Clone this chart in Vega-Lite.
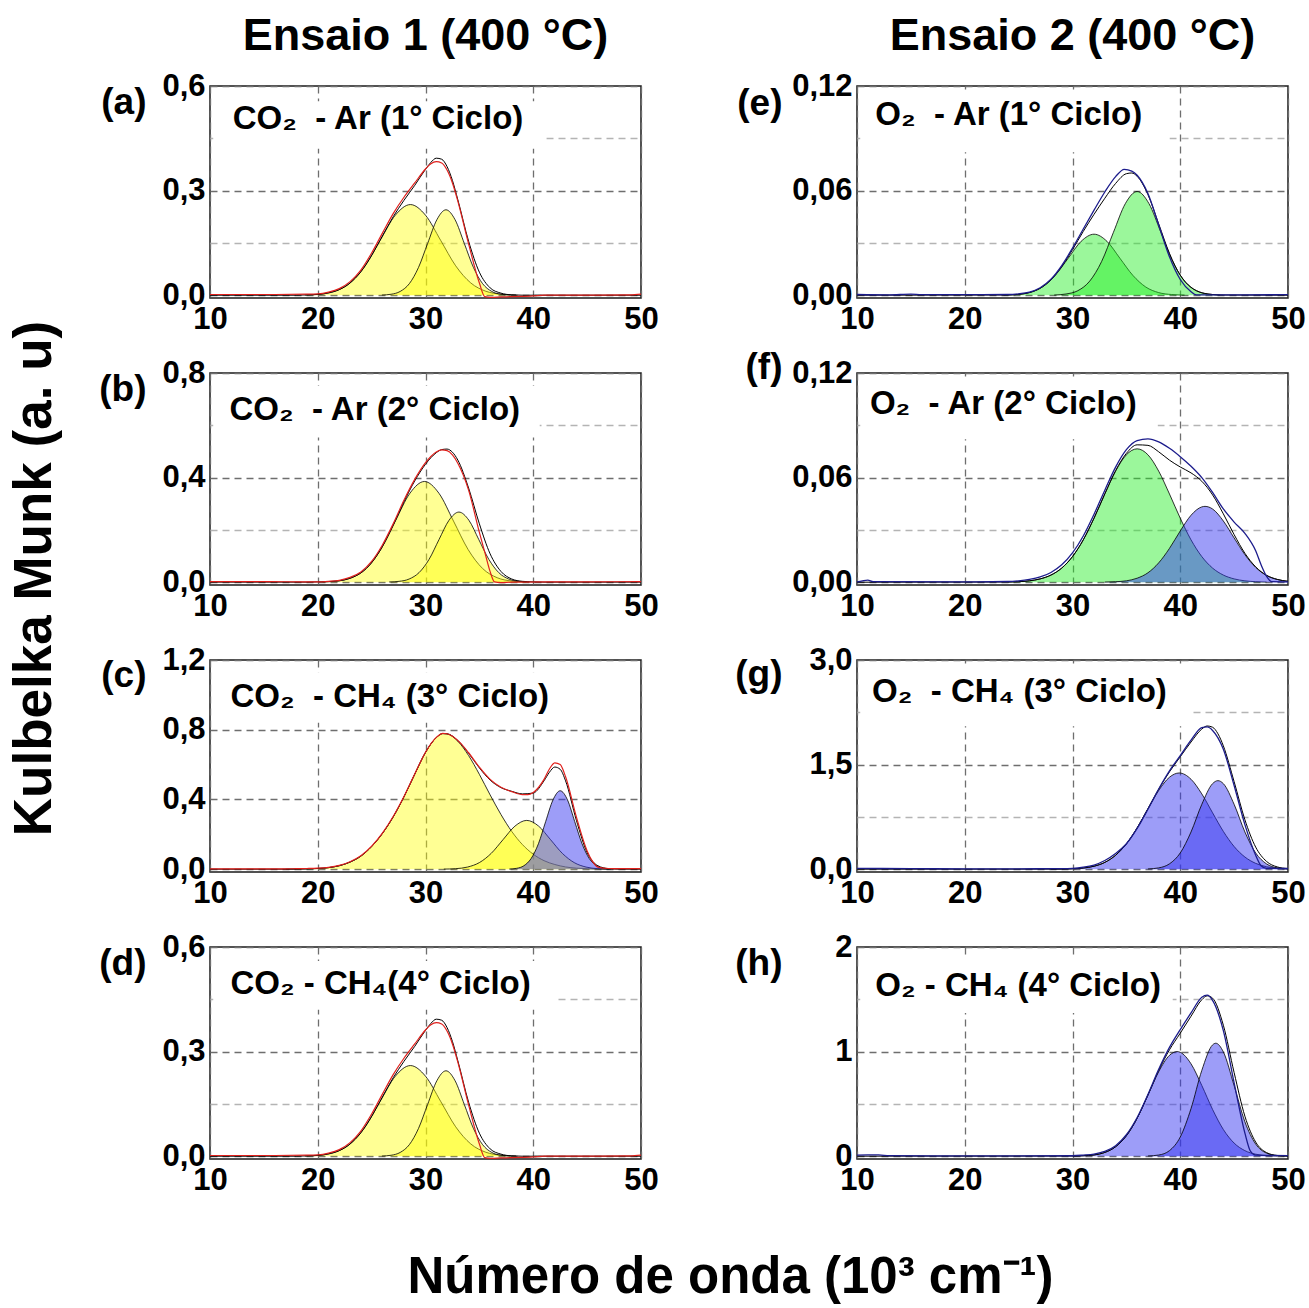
{
"$schema":"https://vega.github.io/schema/vega-lite/v6.json",
"background":"white",
"padding":{"left":9,"top":13,"right":2,"bottom":2},
"data":{"values":[
{"p":"a","s":"g1","x":18.8,"y":0.0006},{"p":"a","s":"g1","x":20.2,"y":0.0029},{"p":"a","s":"g1","x":21.6,"y":0.0114},{"p":"a","s":"g1","x":23,"y":0.0352},{"p":"a","s":"g1","x":24.4,"y":0.0844},{"p":"a","s":"g1","x":25.8,"y":0.1577},{"p":"a","s":"g1","x":27.2,"y":0.2295},{"p":"a","s":"g1","x":28.6,"y":0.26},{"p":"a","s":"g1","x":30,"y":0.2295},{"p":"a","s":"g1","x":31.4,"y":0.1577},{"p":"a","s":"g1","x":32.8,"y":0.0844},{"p":"a","s":"g1","x":34.2,"y":0.0352},{"p":"a","s":"g1","x":35.6,"y":0.0114},{"p":"a","s":"g1","x":37,"y":0.0029},{"p":"a","s":"g1","x":38.4,"y":0.0006},
{"p":"a","s":"g2","x":25.95,"y":0.0005},{"p":"a","s":"g2","x":26.8,"y":0.0027},{"p":"a","s":"g2","x":27.65,"y":0.0108},{"p":"a","s":"g2","x":28.5,"y":0.0331},{"p":"a","s":"g2","x":29.35,"y":0.0796},{"p":"a","s":"g2","x":30.2,"y":0.1486},{"p":"a","s":"g2","x":31.05,"y":0.2162},{"p":"a","s":"g2","x":31.9,"y":0.245},{"p":"a","s":"g2","x":32.75,"y":0.2162},{"p":"a","s":"g2","x":33.6,"y":0.1486},{"p":"a","s":"g2","x":34.45,"y":0.0796},{"p":"a","s":"g2","x":35.3,"y":0.0331},{"p":"a","s":"g2","x":36.15,"y":0.0108},{"p":"a","s":"g2","x":37,"y":0.0027},{"p":"a","s":"g2","x":37.85,"y":0.0005},
{"p":"a","s":"fit","x":10,"y":0},{"p":"a","s":"fit","x":18,"y":0},{"p":"a","s":"fit","x":19,"y":0.001},{"p":"a","s":"fit","x":20,"y":0.002},{"p":"a","s":"fit","x":21,"y":0.007},{"p":"a","s":"fit","x":22,"y":0.016},{"p":"a","s":"fit","x":23,"y":0.035},{"p":"a","s":"fit","x":24,"y":0.067},{"p":"a","s":"fit","x":25,"y":0.114},{"p":"a","s":"fit","x":26,"y":0.17},{"p":"a","s":"fit","x":27,"y":0.225},{"p":"a","s":"fit","x":28,"y":0.272},{"p":"a","s":"fit","x":29,"y":0.315},{"p":"a","s":"fit","x":30,"y":0.361},{"p":"a","s":"fit","x":30.5,"y":0.381},{"p":"a","s":"fit","x":31,"y":0.393},{"p":"a","s":"fit","x":31.5,"y":0.39},{"p":"a","s":"fit","x":32,"y":0.369},{"p":"a","s":"fit","x":32.5,"y":0.329},{"p":"a","s":"fit","x":33,"y":0.274},{"p":"a","s":"fit","x":34,"y":0.155},{"p":"a","s":"fit","x":35,"y":0.066},{"p":"a","s":"fit","x":36,"y":0.021},{"p":"a","s":"fit","x":37,"y":0.006},{"p":"a","s":"fit","x":38,"y":0.001},{"p":"a","s":"fit","x":39,"y":0},{"p":"a","s":"fit","x":50,"y":0},
{"p":"a","s":"exp","x":10,"y":0.002},{"p":"a","s":"exp","x":15,"y":0.002},{"p":"a","s":"exp","x":19,"y":0.003},{"p":"a","s":"exp","x":20,"y":0.004},{"p":"a","s":"exp","x":21,"y":0.009},{"p":"a","s":"exp","x":22,"y":0.019},{"p":"a","s":"exp","x":23,"y":0.039},{"p":"a","s":"exp","x":24,"y":0.072},{"p":"a","s":"exp","x":25,"y":0.121},{"p":"a","s":"exp","x":26,"y":0.178},{"p":"a","s":"exp","x":27,"y":0.234},{"p":"a","s":"exp","x":28,"y":0.281},{"p":"a","s":"exp","x":29,"y":0.322},{"p":"a","s":"exp","x":30,"y":0.362},{"p":"a","s":"exp","x":30.5,"y":0.377},{"p":"a","s":"exp","x":31,"y":0.383},{"p":"a","s":"exp","x":31.5,"y":0.379},{"p":"a","s":"exp","x":32,"y":0.359},{"p":"a","s":"exp","x":32.5,"y":0.322},{"p":"a","s":"exp","x":33,"y":0.27},{"p":"a","s":"exp","x":34,"y":0.147},{"p":"a","s":"exp","x":35,"y":0.035},{"p":"a","s":"exp","x":35.5,"y":-0.004},{"p":"a","s":"exp","x":36,"y":-0.006},{"p":"a","s":"exp","x":37,"y":-0.005},{"p":"a","s":"exp","x":38,"y":-0.004},{"p":"a","s":"exp","x":40,"y":-0.002},{"p":"a","s":"exp","x":41,"y":0},{"p":"a","s":"exp","x":45,"y":0},{"p":"a","s":"exp","x":49,"y":0.001},{"p":"a","s":"exp","x":50,"y":0.003},

{"p":"b","s":"g1","x":20.45,"y":0.0008},{"p":"b","s":"g1","x":21.8,"y":0.0043},{"p":"b","s":"g1","x":23.15,"y":0.0169},{"p":"b","s":"g1","x":24.5,"y":0.0521},{"p":"b","s":"g1","x":25.85,"y":0.125},{"p":"b","s":"g1","x":27.2,"y":0.2335},{"p":"b","s":"g1","x":28.55,"y":0.3398},{"p":"b","s":"g1","x":29.9,"y":0.385},{"p":"b","s":"g1","x":31.25,"y":0.3398},{"p":"b","s":"g1","x":32.6,"y":0.2335},{"p":"b","s":"g1","x":33.95,"y":0.125},{"p":"b","s":"g1","x":35.3,"y":0.0521},{"p":"b","s":"g1","x":36.65,"y":0.0169},{"p":"b","s":"g1","x":38,"y":0.0043},{"p":"b","s":"g1","x":39.35,"y":0.0008},
{"p":"b","s":"g2","x":26.63,"y":0.0006},{"p":"b","s":"g2","x":27.55,"y":0.003},{"p":"b","s":"g2","x":28.48,"y":0.0118},{"p":"b","s":"g2","x":29.4,"y":0.0363},{"p":"b","s":"g2","x":30.33,"y":0.087},{"p":"b","s":"g2","x":31.25,"y":0.1625},{"p":"b","s":"g2","x":32.18,"y":0.2365},{"p":"b","s":"g2","x":33.1,"y":0.268},{"p":"b","s":"g2","x":34.03,"y":0.2365},{"p":"b","s":"g2","x":34.95,"y":0.1625},{"p":"b","s":"g2","x":35.88,"y":0.087},{"p":"b","s":"g2","x":36.8,"y":0.0363},{"p":"b","s":"g2","x":37.73,"y":0.0118},{"p":"b","s":"g2","x":38.65,"y":0.003},{"p":"b","s":"g2","x":39.58,"y":0.0006},
{"p":"b","s":"fit","x":10,"y":0},{"p":"b","s":"fit","x":19,"y":0},{"p":"b","s":"fit","x":20,"y":0.001},{"p":"b","s":"fit","x":21,"y":0.002},{"p":"b","s":"fit","x":22,"y":0.005},{"p":"b","s":"fit","x":23,"y":0.015},{"p":"b","s":"fit","x":24,"y":0.035},{"p":"b","s":"fit","x":25,"y":0.074},{"p":"b","s":"fit","x":26,"y":0.136},{"p":"b","s":"fit","x":27,"y":0.217},{"p":"b","s":"fit","x":28,"y":0.307},{"p":"b","s":"fit","x":29,"y":0.387},{"p":"b","s":"fit","x":30,"y":0.451},{"p":"b","s":"fit","x":31,"y":0.495},{"p":"b","s":"fit","x":31.5,"y":0.507},{"p":"b","s":"fit","x":32,"y":0.509},{"p":"b","s":"fit","x":32.5,"y":0.497},{"p":"b","s":"fit","x":33,"y":0.467},{"p":"b","s":"fit","x":34,"y":0.36},{"p":"b","s":"fit","x":35,"y":0.223},{"p":"b","s":"fit","x":36,"y":0.108},{"p":"b","s":"fit","x":37,"y":0.041},{"p":"b","s":"fit","x":38,"y":0.012},{"p":"b","s":"fit","x":39,"y":0.003},{"p":"b","s":"fit","x":40,"y":0.001},{"p":"b","s":"fit","x":41,"y":0},{"p":"b","s":"fit","x":50,"y":0},
{"p":"b","s":"exp","x":10,"y":0.002},{"p":"b","s":"exp","x":15,"y":0.002},{"p":"b","s":"exp","x":19,"y":0.001},{"p":"b","s":"exp","x":20,"y":0.001},{"p":"b","s":"exp","x":21,"y":0.003},{"p":"b","s":"exp","x":22,"y":0.007},{"p":"b","s":"exp","x":23,"y":0.018},{"p":"b","s":"exp","x":24,"y":0.039},{"p":"b","s":"exp","x":25,"y":0.079},{"p":"b","s":"exp","x":26,"y":0.142},{"p":"b","s":"exp","x":27,"y":0.223},{"p":"b","s":"exp","x":28,"y":0.313},{"p":"b","s":"exp","x":29,"y":0.393},{"p":"b","s":"exp","x":30,"y":0.457},{"p":"b","s":"exp","x":31,"y":0.498},{"p":"b","s":"exp","x":31.5,"y":0.506},{"p":"b","s":"exp","x":32,"y":0.503},{"p":"b","s":"exp","x":32.5,"y":0.487},{"p":"b","s":"exp","x":33,"y":0.455},{"p":"b","s":"exp","x":34,"y":0.352},{"p":"b","s":"exp","x":35,"y":0.19},{"p":"b","s":"exp","x":35.5,"y":0.115},{"p":"b","s":"exp","x":36,"y":0.04},{"p":"b","s":"exp","x":36.4,"y":0.001},{"p":"b","s":"exp","x":37,"y":-0.002},{"p":"b","s":"exp","x":38,"y":0},{"p":"b","s":"exp","x":45,"y":0.001},{"p":"b","s":"exp","x":50,"y":0.002},

{"p":"c","s":"g1","x":17,"y":0},{"p":"c","s":"g1","x":18,"y":0.001},{"p":"c","s":"g1","x":19,"y":0.002},{"p":"c","s":"g1","x":20,"y":0.004},{"p":"c","s":"g1","x":21,"y":0.009},{"p":"c","s":"g1","x":22,"y":0.02},{"p":"c","s":"g1","x":23,"y":0.041},{"p":"c","s":"g1","x":24,"y":0.075},{"p":"c","s":"g1","x":25,"y":0.13},{"p":"c","s":"g1","x":26,"y":0.205},{"p":"c","s":"g1","x":27,"y":0.3},{"p":"c","s":"g1","x":28,"y":0.415},{"p":"c","s":"g1","x":29,"y":0.545},{"p":"c","s":"g1","x":30,"y":0.67},{"p":"c","s":"g1","x":31,"y":0.755},{"p":"c","s":"g1","x":31.6,"y":0.778},{"p":"c","s":"g1","x":32,"y":0.776},{"p":"c","s":"g1","x":33,"y":0.734},{"p":"c","s":"g1","x":34,"y":0.652},{"p":"c","s":"g1","x":35,"y":0.544},{"p":"c","s":"g1","x":36,"y":0.426},{"p":"c","s":"g1","x":37,"y":0.314},{"p":"c","s":"g1","x":38,"y":0.217},{"p":"c","s":"g1","x":39,"y":0.141},{"p":"c","s":"g1","x":40,"y":0.086},{"p":"c","s":"g1","x":41,"y":0.049},{"p":"c","s":"g1","x":42,"y":0.027},{"p":"c","s":"g1","x":43,"y":0.013},{"p":"c","s":"g1","x":44,"y":0.006},{"p":"c","s":"g1","x":45,"y":0.003},{"p":"c","s":"g1","x":46,"y":0.001},{"p":"c","s":"g1","x":47,"y":0},
{"p":"c","s":"g2","x":31.7,"y":0.0006},{"p":"c","s":"g2","x":32.8,"y":0.0031},{"p":"c","s":"g2","x":33.9,"y":0.0123},{"p":"c","s":"g2","x":35,"y":0.0379},{"p":"c","s":"g2","x":36.1,"y":0.0909},{"p":"c","s":"g2","x":37.2,"y":0.1698},{"p":"c","s":"g2","x":38.3,"y":0.2471},{"p":"c","s":"g2","x":39.4,"y":0.28},{"p":"c","s":"g2","x":40.5,"y":0.2471},{"p":"c","s":"g2","x":41.6,"y":0.1698},{"p":"c","s":"g2","x":42.7,"y":0.0909},{"p":"c","s":"g2","x":43.8,"y":0.0379},{"p":"c","s":"g2","x":44.9,"y":0.0123},{"p":"c","s":"g2","x":46,"y":0.0031},{"p":"c","s":"g2","x":47.1,"y":0.0006},
{"p":"c","s":"g3","x":37.78,"y":0.001},{"p":"c","s":"g3","x":38.45,"y":0.005},{"p":"c","s":"g3","x":39.13,"y":0.0198},{"p":"c","s":"g3","x":39.8,"y":0.0609},{"p":"c","s":"g3","x":40.48,"y":0.1461},{"p":"c","s":"g3","x":41.15,"y":0.2729},{"p":"c","s":"g3","x":41.83,"y":0.3971},{"p":"c","s":"g3","x":42.5,"y":0.45},{"p":"c","s":"g3","x":43.18,"y":0.3971},{"p":"c","s":"g3","x":43.85,"y":0.2729},{"p":"c","s":"g3","x":44.53,"y":0.1461},{"p":"c","s":"g3","x":45.2,"y":0.0609},{"p":"c","s":"g3","x":45.88,"y":0.0198},{"p":"c","s":"g3","x":46.55,"y":0.005},{"p":"c","s":"g3","x":47.23,"y":0.001},
{"p":"c","s":"fit","x":10,"y":0},{"p":"c","s":"fit","x":17,"y":0},{"p":"c","s":"fit","x":18,"y":0.001},{"p":"c","s":"fit","x":19,"y":0.002},{"p":"c","s":"fit","x":20,"y":0.004},{"p":"c","s":"fit","x":21,"y":0.009},{"p":"c","s":"fit","x":22,"y":0.02},{"p":"c","s":"fit","x":23,"y":0.041},{"p":"c","s":"fit","x":24,"y":0.075},{"p":"c","s":"fit","x":25,"y":0.13},{"p":"c","s":"fit","x":26,"y":0.205},{"p":"c","s":"fit","x":27,"y":0.3},{"p":"c","s":"fit","x":28,"y":0.415},{"p":"c","s":"fit","x":29,"y":0.545},{"p":"c","s":"fit","x":30,"y":0.67},{"p":"c","s":"fit","x":31,"y":0.755},{"p":"c","s":"fit","x":31.6,"y":0.778},{"p":"c","s":"fit","x":32,"y":0.777},{"p":"c","s":"fit","x":33,"y":0.738},{"p":"c","s":"fit","x":34,"y":0.665},{"p":"c","s":"fit","x":35,"y":0.581},{"p":"c","s":"fit","x":36,"y":0.511},{"p":"c","s":"fit","x":37,"y":0.468},{"p":"c","s":"fit","x":38,"y":0.447},{"p":"c","s":"fit","x":39,"y":0.432},{"p":"c","s":"fit","x":40,"y":0.437},{"p":"c","s":"fit","x":41,"y":0.507},{"p":"c","s":"fit","x":41.5,"y":0.556},{"p":"c","s":"fit","x":42,"y":0.586},{"p":"c","s":"fit","x":42.5,"y":0.573},{"p":"c","s":"fit","x":43,"y":0.507},{"p":"c","s":"fit","x":44,"y":0.281},{"p":"c","s":"fit","x":45,"y":0.095},{"p":"c","s":"fit","x":46,"y":0.02},{"p":"c","s":"fit","x":47,"y":0.003},{"p":"c","s":"fit","x":48,"y":0},{"p":"c","s":"fit","x":50,"y":0},
{"p":"c","s":"exp","x":10,"y":0.002},{"p":"c","s":"exp","x":17,"y":0.002},{"p":"c","s":"exp","x":18,"y":0.003},{"p":"c","s":"exp","x":19,"y":0.004},{"p":"c","s":"exp","x":20,"y":0.006},{"p":"c","s":"exp","x":21,"y":0.011},{"p":"c","s":"exp","x":22,"y":0.022},{"p":"c","s":"exp","x":23,"y":0.043},{"p":"c","s":"exp","x":24,"y":0.077},{"p":"c","s":"exp","x":25,"y":0.132},{"p":"c","s":"exp","x":26,"y":0.207},{"p":"c","s":"exp","x":27,"y":0.302},{"p":"c","s":"exp","x":28,"y":0.417},{"p":"c","s":"exp","x":29,"y":0.546},{"p":"c","s":"exp","x":30,"y":0.671},{"p":"c","s":"exp","x":31,"y":0.756},{"p":"c","s":"exp","x":31.6,"y":0.779},{"p":"c","s":"exp","x":32,"y":0.777},{"p":"c","s":"exp","x":33,"y":0.739},{"p":"c","s":"exp","x":34,"y":0.668},{"p":"c","s":"exp","x":35,"y":0.585},{"p":"c","s":"exp","x":36,"y":0.515},{"p":"c","s":"exp","x":37,"y":0.47},{"p":"c","s":"exp","x":38,"y":0.445},{"p":"c","s":"exp","x":39,"y":0.428},{"p":"c","s":"exp","x":39.5,"y":0.428},{"p":"c","s":"exp","x":40,"y":0.44},{"p":"c","s":"exp","x":41,"y":0.515},{"p":"c","s":"exp","x":41.5,"y":0.575},{"p":"c","s":"exp","x":42,"y":0.61},{"p":"c","s":"exp","x":42.5,"y":0.6},{"p":"c","s":"exp","x":43,"y":0.53},{"p":"c","s":"exp","x":44,"y":0.3},{"p":"c","s":"exp","x":45,"y":0.105},{"p":"c","s":"exp","x":45.5,"y":0.045},{"p":"c","s":"exp","x":46,"y":0.012},{"p":"c","s":"exp","x":47,"y":0.004},{"p":"c","s":"exp","x":48,"y":0.003},{"p":"c","s":"exp","x":50,"y":0.003},

{"p":"d","s":"g1","x":18.8,"y":0.0006},{"p":"d","s":"g1","x":20.2,"y":0.0029},{"p":"d","s":"g1","x":21.6,"y":0.0114},{"p":"d","s":"g1","x":23,"y":0.0352},{"p":"d","s":"g1","x":24.4,"y":0.0844},{"p":"d","s":"g1","x":25.8,"y":0.1577},{"p":"d","s":"g1","x":27.2,"y":0.2295},{"p":"d","s":"g1","x":28.6,"y":0.26},{"p":"d","s":"g1","x":30,"y":0.2295},{"p":"d","s":"g1","x":31.4,"y":0.1577},{"p":"d","s":"g1","x":32.8,"y":0.0844},{"p":"d","s":"g1","x":34.2,"y":0.0352},{"p":"d","s":"g1","x":35.6,"y":0.0114},{"p":"d","s":"g1","x":37,"y":0.0029},{"p":"d","s":"g1","x":38.4,"y":0.0006},
{"p":"d","s":"g2","x":25.95,"y":0.0005},{"p":"d","s":"g2","x":26.8,"y":0.0027},{"p":"d","s":"g2","x":27.65,"y":0.0108},{"p":"d","s":"g2","x":28.5,"y":0.0331},{"p":"d","s":"g2","x":29.35,"y":0.0796},{"p":"d","s":"g2","x":30.2,"y":0.1486},{"p":"d","s":"g2","x":31.05,"y":0.2162},{"p":"d","s":"g2","x":31.9,"y":0.245},{"p":"d","s":"g2","x":32.75,"y":0.2162},{"p":"d","s":"g2","x":33.6,"y":0.1486},{"p":"d","s":"g2","x":34.45,"y":0.0796},{"p":"d","s":"g2","x":35.3,"y":0.0331},{"p":"d","s":"g2","x":36.15,"y":0.0108},{"p":"d","s":"g2","x":37,"y":0.0027},{"p":"d","s":"g2","x":37.85,"y":0.0005},
{"p":"d","s":"fit","x":10,"y":0},{"p":"d","s":"fit","x":18,"y":0},{"p":"d","s":"fit","x":19,"y":0.001},{"p":"d","s":"fit","x":20,"y":0.002},{"p":"d","s":"fit","x":21,"y":0.007},{"p":"d","s":"fit","x":22,"y":0.016},{"p":"d","s":"fit","x":23,"y":0.035},{"p":"d","s":"fit","x":24,"y":0.067},{"p":"d","s":"fit","x":25,"y":0.114},{"p":"d","s":"fit","x":26,"y":0.17},{"p":"d","s":"fit","x":27,"y":0.225},{"p":"d","s":"fit","x":28,"y":0.272},{"p":"d","s":"fit","x":29,"y":0.315},{"p":"d","s":"fit","x":30,"y":0.361},{"p":"d","s":"fit","x":30.5,"y":0.381},{"p":"d","s":"fit","x":31,"y":0.393},{"p":"d","s":"fit","x":31.5,"y":0.39},{"p":"d","s":"fit","x":32,"y":0.369},{"p":"d","s":"fit","x":32.5,"y":0.329},{"p":"d","s":"fit","x":33,"y":0.274},{"p":"d","s":"fit","x":34,"y":0.155},{"p":"d","s":"fit","x":35,"y":0.066},{"p":"d","s":"fit","x":36,"y":0.021},{"p":"d","s":"fit","x":37,"y":0.006},{"p":"d","s":"fit","x":38,"y":0.001},{"p":"d","s":"fit","x":39,"y":0},{"p":"d","s":"fit","x":50,"y":0},
{"p":"d","s":"exp","x":10,"y":0.002},{"p":"d","s":"exp","x":15,"y":0.002},{"p":"d","s":"exp","x":19,"y":0.003},{"p":"d","s":"exp","x":20,"y":0.004},{"p":"d","s":"exp","x":21,"y":0.009},{"p":"d","s":"exp","x":22,"y":0.019},{"p":"d","s":"exp","x":23,"y":0.039},{"p":"d","s":"exp","x":24,"y":0.072},{"p":"d","s":"exp","x":25,"y":0.121},{"p":"d","s":"exp","x":26,"y":0.178},{"p":"d","s":"exp","x":27,"y":0.234},{"p":"d","s":"exp","x":28,"y":0.281},{"p":"d","s":"exp","x":29,"y":0.322},{"p":"d","s":"exp","x":30,"y":0.362},{"p":"d","s":"exp","x":30.5,"y":0.377},{"p":"d","s":"exp","x":31,"y":0.383},{"p":"d","s":"exp","x":31.5,"y":0.379},{"p":"d","s":"exp","x":32,"y":0.359},{"p":"d","s":"exp","x":32.5,"y":0.322},{"p":"d","s":"exp","x":33,"y":0.27},{"p":"d","s":"exp","x":34,"y":0.147},{"p":"d","s":"exp","x":35,"y":0.035},{"p":"d","s":"exp","x":35.5,"y":-0.004},{"p":"d","s":"exp","x":36,"y":-0.006},{"p":"d","s":"exp","x":37,"y":-0.005},{"p":"d","s":"exp","x":38,"y":-0.004},{"p":"d","s":"exp","x":40,"y":-0.002},{"p":"d","s":"exp","x":41,"y":0},{"p":"d","s":"exp","x":45,"y":0},{"p":"d","s":"exp","x":49,"y":0.001},{"p":"d","s":"exp","x":50,"y":0.003},

{"p":"e","s":"g1","x":23.6,"y":0.0001},{"p":"e","s":"g1","x":24.8,"y":0.0004},{"p":"e","s":"g1","x":26,"y":0.0015},{"p":"e","s":"g1","x":27.2,"y":0.0047},{"p":"e","s":"g1","x":28.4,"y":0.0114},{"p":"e","s":"g1","x":29.6,"y":0.0212},{"p":"e","s":"g1","x":30.8,"y":0.0309},{"p":"e","s":"g1","x":32,"y":0.035},{"p":"e","s":"g1","x":33.2,"y":0.0309},{"p":"e","s":"g1","x":34.4,"y":0.0212},{"p":"e","s":"g1","x":35.6,"y":0.0114},{"p":"e","s":"g1","x":36.8,"y":0.0047},{"p":"e","s":"g1","x":38,"y":0.0015},{"p":"e","s":"g1","x":39.2,"y":0.0004},{"p":"e","s":"g1","x":40.4,"y":0.0001},
{"p":"e","s":"g2","x":28.3,"y":0.0001},{"p":"e","s":"g2","x":29.4,"y":0.0007},{"p":"e","s":"g2","x":30.5,"y":0.0026},{"p":"e","s":"g2","x":31.6,"y":0.0081},{"p":"e","s":"g2","x":32.7,"y":0.0193},{"p":"e","s":"g2","x":33.8,"y":0.0361},{"p":"e","s":"g2","x":34.9,"y":0.0525},{"p":"e","s":"g2","x":36,"y":0.0595},{"p":"e","s":"g2","x":37.1,"y":0.0525},{"p":"e","s":"g2","x":38.2,"y":0.0361},{"p":"e","s":"g2","x":39.3,"y":0.0193},{"p":"e","s":"g2","x":40.4,"y":0.0081},{"p":"e","s":"g2","x":41.5,"y":0.0026},{"p":"e","s":"g2","x":42.6,"y":0.0007},{"p":"e","s":"g2","x":43.7,"y":0.0001},
{"p":"e","s":"fit","x":10,"y":0},{"p":"e","s":"fit","x":24,"y":0.0001},{"p":"e","s":"fit","x":25,"y":0.0005},{"p":"e","s":"fit","x":26,"y":0.0015},{"p":"e","s":"fit","x":27,"y":0.004},{"p":"e","s":"fit","x":28,"y":0.0088},{"p":"e","s":"fit","x":29,"y":0.0164},{"p":"e","s":"fit","x":30,"y":0.0261},{"p":"e","s":"fit","x":31,"y":0.0366},{"p":"e","s":"fit","x":32,"y":0.0464},{"p":"e","s":"fit","x":33,"y":0.0556},{"p":"e","s":"fit","x":34,"y":0.0641},{"p":"e","s":"fit","x":35,"y":0.0697},{"p":"e","s":"fit","x":35.5,"y":0.0701},{"p":"e","s":"fit","x":36,"y":0.0682},{"p":"e","s":"fit","x":37,"y":0.0577},{"p":"e","s":"fit","x":38,"y":0.0409},{"p":"e","s":"fit","x":39,"y":0.024},{"p":"e","s":"fit","x":40,"y":0.0115},{"p":"e","s":"fit","x":41,"y":0.0045},{"p":"e","s":"fit","x":42,"y":0.0014},{"p":"e","s":"fit","x":43,"y":0.0004},{"p":"e","s":"fit","x":44,"y":0.0001},{"p":"e","s":"fit","x":50,"y":0},
{"p":"e","s":"exp","x":10,"y":0.0004},{"p":"e","s":"exp","x":13,"y":0.0002},{"p":"e","s":"exp","x":15,"y":0.0006},{"p":"e","s":"exp","x":16,"y":0.0003},{"p":"e","s":"exp","x":20,"y":0.0003},{"p":"e","s":"exp","x":24,"y":0.0004},{"p":"e","s":"exp","x":25,"y":0.0008},{"p":"e","s":"exp","x":26,"y":0.0018},{"p":"e","s":"exp","x":27,"y":0.0043},{"p":"e","s":"exp","x":28,"y":0.0092},{"p":"e","s":"exp","x":29,"y":0.017},{"p":"e","s":"exp","x":30,"y":0.027},{"p":"e","s":"exp","x":31,"y":0.038},{"p":"e","s":"exp","x":32,"y":0.0488},{"p":"e","s":"exp","x":33,"y":0.0592},{"p":"e","s":"exp","x":34,"y":0.068},{"p":"e","s":"exp","x":34.8,"y":0.0722},{"p":"e","s":"exp","x":35.5,"y":0.0712},{"p":"e","s":"exp","x":36,"y":0.0688},{"p":"e","s":"exp","x":37,"y":0.0583},{"p":"e","s":"exp","x":38,"y":0.0403},{"p":"e","s":"exp","x":39,"y":0.022},{"p":"e","s":"exp","x":40,"y":0.009},{"p":"e","s":"exp","x":41,"y":0.002},{"p":"e","s":"exp","x":41.5,"y":0.0002},{"p":"e","s":"exp","x":43,"y":0.0002},{"p":"e","s":"exp","x":50,"y":0.0003},

{"p":"f","s":"g1","x":24,"y":0.0001},{"p":"f","s":"g1","x":25,"y":0.0003},{"p":"f","s":"g1","x":26,"y":0.0008},{"p":"f","s":"g1","x":27,"y":0.0019},{"p":"f","s":"g1","x":28,"y":0.0041},{"p":"f","s":"g1","x":29,"y":0.0081},{"p":"f","s":"g1","x":30,"y":0.0147},{"p":"f","s":"g1","x":31,"y":0.0243},{"p":"f","s":"g1","x":32,"y":0.0367},{"p":"f","s":"g1","x":33,"y":0.0506},{"p":"f","s":"g1","x":34,"y":0.0637},{"p":"f","s":"g1","x":35,"y":0.0731},{"p":"f","s":"g1","x":36,"y":0.0765},{"p":"f","s":"g1","x":37,"y":0.0731},{"p":"f","s":"g1","x":38,"y":0.0637},{"p":"f","s":"g1","x":39,"y":0.0506},{"p":"f","s":"g1","x":40,"y":0.0367},{"p":"f","s":"g1","x":41,"y":0.0243},{"p":"f","s":"g1","x":42,"y":0.0147},{"p":"f","s":"g1","x":43,"y":0.0081},{"p":"f","s":"g1","x":44,"y":0.0041},{"p":"f","s":"g1","x":45,"y":0.0019},{"p":"f","s":"g1","x":46,"y":0.0008},{"p":"f","s":"g1","x":47,"y":0.0003},{"p":"f","s":"g1","x":48,"y":0.0001},
{"p":"f","s":"g2","x":33,"y":0.0001},{"p":"f","s":"g2","x":34,"y":0.0003},{"p":"f","s":"g2","x":35,"y":0.0008},{"p":"f","s":"g2","x":36,"y":0.0023},{"p":"f","s":"g2","x":37,"y":0.0054},{"p":"f","s":"g2","x":38,"y":0.0111},{"p":"f","s":"g2","x":39,"y":0.0194},{"p":"f","s":"g2","x":40,"y":0.0294},{"p":"f","s":"g2","x":41,"y":0.0384},{"p":"f","s":"g2","x":42,"y":0.0432},{"p":"f","s":"g2","x":42.3,"y":0.0435},{"p":"f","s":"g2","x":43,"y":0.042},{"p":"f","s":"g2","x":44,"y":0.0351},{"p":"f","s":"g2","x":45,"y":0.0254},{"p":"f","s":"g2","x":46,"y":0.0158},{"p":"f","s":"g2","x":47,"y":0.0085},{"p":"f","s":"g2","x":48,"y":0.0039},{"p":"f","s":"g2","x":49,"y":0.0016},{"p":"f","s":"g2","x":50,"y":0.0005},
{"p":"f","s":"fit","x":10,"y":0},{"p":"f","s":"fit","x":24,"y":0.0001},{"p":"f","s":"fit","x":25,"y":0.0003},{"p":"f","s":"fit","x":26,"y":0.0008},{"p":"f","s":"fit","x":27,"y":0.0019},{"p":"f","s":"fit","x":28,"y":0.0041},{"p":"f","s":"fit","x":29,"y":0.0081},{"p":"f","s":"fit","x":30,"y":0.0147},{"p":"f","s":"fit","x":31,"y":0.0243},{"p":"f","s":"fit","x":32,"y":0.0368},{"p":"f","s":"fit","x":33,"y":0.0507},{"p":"f","s":"fit","x":34,"y":0.064},{"p":"f","s":"fit","x":35,"y":0.0739},{"p":"f","s":"fit","x":36,"y":0.0788},{"p":"f","s":"fit","x":37,"y":0.0785},{"p":"f","s":"fit","x":38,"y":0.0748},{"p":"f","s":"fit","x":39,"y":0.07},{"p":"f","s":"fit","x":40,"y":0.0661},{"p":"f","s":"fit","x":41,"y":0.0627},{"p":"f","s":"fit","x":42,"y":0.0579},{"p":"f","s":"fit","x":43,"y":0.0501},{"p":"f","s":"fit","x":44,"y":0.0392},{"p":"f","s":"fit","x":45,"y":0.0273},{"p":"f","s":"fit","x":46,"y":0.0166},{"p":"f","s":"fit","x":47,"y":0.0088},{"p":"f","s":"fit","x":48,"y":0.004},{"p":"f","s":"fit","x":49,"y":0.0016},{"p":"f","s":"fit","x":50,"y":0.0005},
{"p":"f","s":"exp","x":10,"y":0.0002},{"p":"f","s":"exp","x":10.5,"y":0.0008},{"p":"f","s":"exp","x":11,"y":0.0012},{"p":"f","s":"exp","x":11.5,"y":0.0003},{"p":"f","s":"exp","x":20,"y":0.0002},{"p":"f","s":"exp","x":24,"y":0.0004},{"p":"f","s":"exp","x":25,"y":0.0008},{"p":"f","s":"exp","x":26,"y":0.0016},{"p":"f","s":"exp","x":27,"y":0.003},{"p":"f","s":"exp","x":28,"y":0.0056},{"p":"f","s":"exp","x":29,"y":0.01},{"p":"f","s":"exp","x":30,"y":0.0168},{"p":"f","s":"exp","x":31,"y":0.0265},{"p":"f","s":"exp","x":32,"y":0.039},{"p":"f","s":"exp","x":33,"y":0.0528},{"p":"f","s":"exp","x":34,"y":0.066},{"p":"f","s":"exp","x":35,"y":0.076},{"p":"f","s":"exp","x":36,"y":0.0812},{"p":"f","s":"exp","x":37,"y":0.0822},{"p":"f","s":"exp","x":38,"y":0.0805},{"p":"f","s":"exp","x":39,"y":0.0768},{"p":"f","s":"exp","x":40,"y":0.072},{"p":"f","s":"exp","x":41,"y":0.0665},{"p":"f","s":"exp","x":42,"y":0.06},{"p":"f","s":"exp","x":43,"y":0.0515},{"p":"f","s":"exp","x":44,"y":0.042},{"p":"f","s":"exp","x":45,"y":0.0345},{"p":"f","s":"exp","x":46,"y":0.028},{"p":"f","s":"exp","x":47,"y":0.018},{"p":"f","s":"exp","x":47.5,"y":0.01},{"p":"f","s":"exp","x":48,"y":0.0035},{"p":"f","s":"exp","x":48.5,"y":0.0003},{"p":"f","s":"exp","x":50,"y":0.0002},

{"p":"g","s":"g1","x":28,"y":0.001},{"p":"g","s":"g1","x":29,"y":0.002},{"p":"g","s":"g1","x":30,"y":0.006},{"p":"g","s":"g1","x":31,"y":0.017},{"p":"g","s":"g1","x":32,"y":0.043},{"p":"g","s":"g1","x":33,"y":0.098},{"p":"g","s":"g1","x":34,"y":0.2},{"p":"g","s":"g1","x":35,"y":0.363},{"p":"g","s":"g1","x":36,"y":0.593},{"p":"g","s":"g1","x":37,"y":0.865},{"p":"g","s":"g1","x":38,"y":1.129},{"p":"g","s":"g1","x":39,"y":1.319},{"p":"g","s":"g1","x":39.9,"y":1.38},{"p":"g","s":"g1","x":41,"y":1.29},{"p":"g","s":"g1","x":42,"y":1.08},{"p":"g","s":"g1","x":43,"y":0.809},{"p":"g","s":"g1","x":44,"y":0.542},{"p":"g","s":"g1","x":45,"y":0.325},{"p":"g","s":"g1","x":46,"y":0.175},{"p":"g","s":"g1","x":47,"y":0.084},{"p":"g","s":"g1","x":48,"y":0.036},{"p":"g","s":"g1","x":49,"y":0.014},{"p":"g","s":"g1","x":50,"y":0.005},
{"p":"g","s":"g2","x":37,"y":0.004},{"p":"g","s":"g2","x":38,"y":0.019},{"p":"g","s":"g2","x":39,"y":0.077},{"p":"g","s":"g2","x":40,"y":0.233},{"p":"g","s":"g2","x":41,"y":0.534},{"p":"g","s":"g2","x":42,"y":0.93},{"p":"g","s":"g2","x":43,"y":1.227},{"p":"g","s":"g2","x":43.5,"y":1.27},{"p":"g","s":"g2","x":44,"y":1.227},{"p":"g","s":"g2","x":45,"y":0.93},{"p":"g","s":"g2","x":46,"y":0.534},{"p":"g","s":"g2","x":47,"y":0.233},{"p":"g","s":"g2","x":48,"y":0.077},{"p":"g","s":"g2","x":49,"y":0.019},{"p":"g","s":"g2","x":50,"y":0.004},
{"p":"g","s":"fit","x":10,"y":0},{"p":"g","s":"fit","x":28,"y":0.001},{"p":"g","s":"fit","x":29,"y":0.002},{"p":"g","s":"fit","x":30,"y":0.006},{"p":"g","s":"fit","x":31,"y":0.017},{"p":"g","s":"fit","x":32,"y":0.043},{"p":"g","s":"fit","x":33,"y":0.098},{"p":"g","s":"fit","x":34,"y":0.2},{"p":"g","s":"fit","x":35,"y":0.363},{"p":"g","s":"fit","x":36,"y":0.593},{"p":"g","s":"fit","x":37,"y":0.869},{"p":"g","s":"fit","x":38,"y":1.148},{"p":"g","s":"fit","x":39,"y":1.396},{"p":"g","s":"fit","x":40,"y":1.612},{"p":"g","s":"fit","x":41,"y":1.824},{"p":"g","s":"fit","x":42,"y":2.01},{"p":"g","s":"fit","x":42.5,"y":2.054},{"p":"g","s":"fit","x":43,"y":2.036},{"p":"g","s":"fit","x":43.5,"y":1.942},{"p":"g","s":"fit","x":44,"y":1.769},{"p":"g","s":"fit","x":45,"y":1.255},{"p":"g","s":"fit","x":46,"y":0.709},{"p":"g","s":"fit","x":47,"y":0.317},{"p":"g","s":"fit","x":48,"y":0.113},{"p":"g","s":"fit","x":49,"y":0.033},{"p":"g","s":"fit","x":50,"y":0.009},
{"p":"g","s":"exp","x":10,"y":0.012},{"p":"g","s":"exp","x":15,"y":0.008},{"p":"g","s":"exp","x":20,"y":0.006},{"p":"g","s":"exp","x":25,"y":0.006},{"p":"g","s":"exp","x":29,"y":0.008},{"p":"g","s":"exp","x":30,"y":0.012},{"p":"g","s":"exp","x":31,"y":0.028},{"p":"g","s":"exp","x":32,"y":0.06},{"p":"g","s":"exp","x":33,"y":0.125},{"p":"g","s":"exp","x":34,"y":0.225},{"p":"g","s":"exp","x":35,"y":0.365},{"p":"g","s":"exp","x":36,"y":0.585},{"p":"g","s":"exp","x":37,"y":0.86},{"p":"g","s":"exp","x":38,"y":1.15},{"p":"g","s":"exp","x":39,"y":1.41},{"p":"g","s":"exp","x":40,"y":1.63},{"p":"g","s":"exp","x":41,"y":1.85},{"p":"g","s":"exp","x":42,"y":2.03},{"p":"g","s":"exp","x":42.5,"y":2.04},{"p":"g","s":"exp","x":43,"y":1.99},{"p":"g","s":"exp","x":44,"y":1.72},{"p":"g","s":"exp","x":45,"y":1.2},{"p":"g","s":"exp","x":46,"y":0.64},{"p":"g","s":"exp","x":47,"y":0.2},{"p":"g","s":"exp","x":47.5,"y":0.05},{"p":"g","s":"exp","x":48,"y":0.012},{"p":"g","s":"exp","x":50,"y":0.01},

{"p":"h","s":"g1","x":30,"y":0.001},{"p":"h","s":"g1","x":31,"y":0.004},{"p":"h","s":"g1","x":32,"y":0.012},{"p":"h","s":"g1","x":33,"y":0.036},{"p":"h","s":"g1","x":34,"y":0.09},{"p":"h","s":"g1","x":35,"y":0.195},{"p":"h","s":"g1","x":36,"y":0.363},{"p":"h","s":"g1","x":37,"y":0.583},{"p":"h","s":"g1","x":38,"y":0.808},{"p":"h","s":"g1","x":39,"y":0.964},{"p":"h","s":"g1","x":39.7,"y":1},{"p":"h","s":"g1","x":40,"y":0.993},{"p":"h","s":"g1","x":41,"y":0.883},{"p":"h","s":"g1","x":42,"y":0.676},{"p":"h","s":"g1","x":43,"y":0.447},{"p":"h","s":"g1","x":44,"y":0.255},{"p":"h","s":"g1","x":45,"y":0.125},{"p":"h","s":"g1","x":46,"y":0.053},{"p":"h","s":"g1","x":47,"y":0.019},{"p":"h","s":"g1","x":48,"y":0.006},{"p":"h","s":"g1","x":49,"y":0.002},
{"p":"h","s":"g2","x":37,"y":0.002},{"p":"h","s":"g2","x":38,"y":0.011},{"p":"h","s":"g2","x":39,"y":0.053},{"p":"h","s":"g2","x":40,"y":0.183},{"p":"h","s":"g2","x":41,"y":0.455},{"p":"h","s":"g2","x":42,"y":0.82},{"p":"h","s":"g2","x":43,"y":1.064},{"p":"h","s":"g2","x":43.3,"y":1.08},{"p":"h","s":"g2","x":44,"y":0.997},{"p":"h","s":"g2","x":45,"y":0.674},{"p":"h","s":"g2","x":46,"y":0.329},{"p":"h","s":"g2","x":47,"y":0.116},{"p":"h","s":"g2","x":48,"y":0.029},{"p":"h","s":"g2","x":49,"y":0.005},{"p":"h","s":"g2","x":50,"y":0.001},
{"p":"h","s":"fit","x":10,"y":0},{"p":"h","s":"fit","x":30,"y":0.001},{"p":"h","s":"fit","x":31,"y":0.004},{"p":"h","s":"fit","x":32,"y":0.012},{"p":"h","s":"fit","x":33,"y":0.036},{"p":"h","s":"fit","x":34,"y":0.09},{"p":"h","s":"fit","x":35,"y":0.195},{"p":"h","s":"fit","x":36,"y":0.363},{"p":"h","s":"fit","x":37,"y":0.585},{"p":"h","s":"fit","x":38,"y":0.819},{"p":"h","s":"fit","x":39,"y":1.017},{"p":"h","s":"fit","x":40,"y":1.176},{"p":"h","s":"fit","x":41,"y":1.338},{"p":"h","s":"fit","x":42,"y":1.496},{"p":"h","s":"fit","x":42.5,"y":1.533},{"p":"h","s":"fit","x":43,"y":1.511},{"p":"h","s":"fit","x":44,"y":1.252},{"p":"h","s":"fit","x":45,"y":0.799},{"p":"h","s":"fit","x":46,"y":0.382},{"p":"h","s":"fit","x":47,"y":0.135},{"p":"h","s":"fit","x":48,"y":0.035},{"p":"h","s":"fit","x":49,"y":0.007},{"p":"h","s":"fit","x":50,"y":0.001},
{"p":"h","s":"exp","x":10,"y":0.01},{"p":"h","s":"exp","x":11,"y":0.012},{"p":"h","s":"exp","x":12,"y":0.012},{"p":"h","s":"exp","x":13,"y":0.005},{"p":"h","s":"exp","x":20,"y":0.003},{"p":"h","s":"exp","x":30,"y":0.004},{"p":"h","s":"exp","x":31,"y":0.01},{"p":"h","s":"exp","x":32,"y":0.02},{"p":"h","s":"exp","x":33,"y":0.045},{"p":"h","s":"exp","x":34,"y":0.1},{"p":"h","s":"exp","x":35,"y":0.205},{"p":"h","s":"exp","x":36,"y":0.37},{"p":"h","s":"exp","x":37,"y":0.59},{"p":"h","s":"exp","x":38,"y":0.83},{"p":"h","s":"exp","x":39,"y":1.04},{"p":"h","s":"exp","x":40,"y":1.21},{"p":"h","s":"exp","x":41,"y":1.37},{"p":"h","s":"exp","x":42,"y":1.52},{"p":"h","s":"exp","x":42.5,"y":1.54},{"p":"h","s":"exp","x":43,"y":1.49},{"p":"h","s":"exp","x":44,"y":1.2},{"p":"h","s":"exp","x":45,"y":0.7},{"p":"h","s":"exp","x":46,"y":0.22},{"p":"h","s":"exp","x":46.5,"y":0.05},{"p":"h","s":"exp","x":47,"y":0.01},{"p":"h","s":"exp","x":50,"y":0.005}
]},
"title":{"text":"Número de onda (10³ cm⁻¹)","orient":"bottom","anchor":"middle","fontSize":51,"offset":57,"dx":73},
"hconcat":[
{"title":{"text":"Kulbelka Munk (a. u)","orient":"left","anchor":"middle","fontSize":53,"offset":36,"dx":26},
"bounds":"flush","spacing":75,
"vconcat":[
{"width":431,"height":212,
"title":{"text":"Ensaio 1 (400 °C)","fontSize":45,"anchor":"middle","frame":"group","offset":11},
"layer":[
{"data":{"values":[{}]},"mark":{"type":"rect","fill":"white"},"encoding":{"x":{"datum":10.3,"type":"quantitative","scale":{"domain":[10,50],"nice":false,"zero":false}},"x2":{"datum":41.2},"y":{"datum":0.42,"type":"quantitative","scale":{"domain":[-0.008,0.6],"nice":false,"zero":false}},"y2":{"datum":0.556}}},
{"transform":[{"filter":"datum.p=='a'&&datum.s=='g1'"}],"mark":{"type":"area","color":"#ffff00","fillOpacity":0.42,"interpolate":"monotone","line":{"color":"#000000","strokeWidth":0.8}},
"encoding":{"x":{"field":"x","type":"quantitative","scale":{"domain":[10,50],"nice":false,"zero":false},"axis":{"values":[10,20,30,40,50],"gridColor":"#6e6e6e","title":null}},
"y":{"field":"y","type":"quantitative","scale":{"domain":[-0.008,0.6],"nice":false,"zero":false},"axis":{"values":[0,0.15,0.3,0.45,0.6],"gridColor":{"condition":{"test":"datum.value==0.15||datum.value==0.45","value":"#b4b4b4"},"value":"#6e6e6e"},"labelExpr":"datum.value==0.15||datum.value==0.45?'':replace(format(datum.value,'.1f'),'.',',')","title":"(a)","titleX":-64,"titleY":-2}}}},
{"transform":[{"filter":"datum.p=='a'&&datum.s=='g2'"}],"mark":{"type":"area","color":"#ffff00","fillOpacity":0.42,"interpolate":"monotone","line":{"color":"#000000","strokeWidth":0.8}},"encoding":{"x":{"field":"x","type":"quantitative"},"y":{"field":"y","type":"quantitative"}}},
{"transform":[{"filter":"datum.p=='a'&&datum.s=='fit'"}],"mark":{"type":"line","color":"#000000","strokeWidth":1,"interpolate":"monotone"},"encoding":{"x":{"field":"x","type":"quantitative"},"y":{"field":"y","type":"quantitative"}}},
{"transform":[{"filter":"datum.p=='a'&&datum.s=='exp'"}],"mark":{"type":"line","color":"#e0201c","strokeWidth":1.2,"interpolate":"monotone"},"encoding":{"x":{"field":"x","type":"quantitative"},"y":{"field":"y","type":"quantitative"}}},
{"data":{"values":[{}]},"mark":{"type":"text","text":"CO₂\u00a0\u00a0- Ar (1° Ciclo)","font":"Liberation Sans","fontWeight":"bold","fontSize":33,"align":"left","baseline":"middle"},"encoding":{"x":{"datum":12.1,"type":"quantitative"},"y":{"datum":0.505,"type":"quantitative"}}}
]},
{"width":431,"height":212,
"layer":[
{"data":{"values":[{}]},"mark":{"type":"rect","fill":"white"},"encoding":{"x":{"datum":10.3,"type":"quantitative","scale":{"domain":[10,50],"nice":false,"zero":false}},"x2":{"datum":40.6},"y":{"datum":0.553,"type":"quantitative","scale":{"domain":[-0.011,0.8],"nice":false,"zero":false}},"y2":{"datum":0.75}}},
{"transform":[{"filter":"datum.p=='b'&&datum.s=='g1'"}],"mark":{"type":"area","color":"#ffff00","fillOpacity":0.42,"interpolate":"monotone","line":{"color":"#000000","strokeWidth":0.8}},
"encoding":{"x":{"field":"x","type":"quantitative","scale":{"domain":[10,50],"nice":false,"zero":false},"axis":{"values":[10,20,30,40,50],"gridColor":"#6e6e6e","title":null}},
"y":{"field":"y","type":"quantitative","scale":{"domain":[-0.011,0.8],"nice":false,"zero":false},"axis":{"values":[0,0.2,0.4,0.6,0.8],"gridColor":{"condition":{"test":"datum.value==0.2||datum.value==0.6","value":"#b4b4b4"},"value":"#6e6e6e"},"labelExpr":"datum.value==0.2||datum.value==0.6?'':replace(format(datum.value,'.1f'),'.',',')","title":"(b)","titleX":-64,"titleY":-2}}}},
{"transform":[{"filter":"datum.p=='b'&&datum.s=='g2'"}],"mark":{"type":"area","color":"#ffff00","fillOpacity":0.42,"interpolate":"monotone","line":{"color":"#000000","strokeWidth":0.8}},"encoding":{"x":{"field":"x","type":"quantitative"},"y":{"field":"y","type":"quantitative"}}},
{"transform":[{"filter":"datum.p=='b'&&datum.s=='fit'"}],"mark":{"type":"line","color":"#000000","strokeWidth":1,"interpolate":"monotone"},"encoding":{"x":{"field":"x","type":"quantitative"},"y":{"field":"y","type":"quantitative"}}},
{"transform":[{"filter":"datum.p=='b'&&datum.s=='exp'"}],"mark":{"type":"line","color":"#e0201c","strokeWidth":1.2,"interpolate":"monotone"},"encoding":{"x":{"field":"x","type":"quantitative"},"y":{"field":"y","type":"quantitative"}}},
{"data":{"values":[{}]},"mark":{"type":"text","text":"CO₂\u00a0\u00a0- Ar (2° Ciclo)","font":"Liberation Sans","fontWeight":"bold","fontSize":33,"align":"left","baseline":"middle"},"encoding":{"x":{"datum":11.8,"type":"quantitative"},"y":{"datum":0.657,"type":"quantitative"}}}
]},
{"width":431,"height":212,
"layer":[
{"data":{"values":[{}]},"mark":{"type":"rect","fill":"white"},"encoding":{"x":{"datum":10.3,"type":"quantitative","scale":{"domain":[10,50],"nice":false,"zero":false}},"x2":{"datum":43},"y":{"datum":0.84,"type":"quantitative","scale":{"domain":[-0.016,1.2],"nice":false,"zero":false}},"y2":{"datum":1.13}}},
{"transform":[{"filter":"datum.p=='c'&&datum.s=='g1'"}],"mark":{"type":"area","color":"#ffff00","fillOpacity":0.42,"interpolate":"monotone","line":{"color":"#000000","strokeWidth":0.8}},
"encoding":{"x":{"field":"x","type":"quantitative","scale":{"domain":[10,50],"nice":false,"zero":false},"axis":{"values":[10,20,30,40,50],"gridColor":"#6e6e6e","title":null}},
"y":{"field":"y","type":"quantitative","scale":{"domain":[-0.016,1.2],"nice":false,"zero":false},"axis":{"values":[0,0.2,0.4,0.6,0.8,1,1.2],"gridColor":{"condition":{"test":"datum.value==0.2||datum.value==0.6||datum.value==1","value":"#b4b4b4"},"value":"#6e6e6e"},"labelExpr":"datum.value==0.2||datum.value==0.6||datum.value==1?'':replace(format(datum.value,'.1f'),'.',',')","title":"(c)","titleX":-64,"titleY":-3}}}},
{"transform":[{"filter":"datum.p=='c'&&datum.s=='g2'"}],"mark":{"type":"area","color":"#ffff00","fillOpacity":0.42,"interpolate":"monotone","line":{"color":"#000000","strokeWidth":0.8}},"encoding":{"x":{"field":"x","type":"quantitative"},"y":{"field":"y","type":"quantitative"}}},
{"transform":[{"filter":"datum.p=='c'&&datum.s=='g3'"}],"mark":{"type":"area","color":"#3232f0","fillOpacity":0.48,"interpolate":"monotone","line":{"color":"#000000","strokeWidth":0.8}},"encoding":{"x":{"field":"x","type":"quantitative"},"y":{"field":"y","type":"quantitative"}}},
{"transform":[{"filter":"datum.p=='c'&&datum.s=='fit'"}],"mark":{"type":"line","color":"#000000","strokeWidth":1,"interpolate":"monotone"},"encoding":{"x":{"field":"x","type":"quantitative"},"y":{"field":"y","type":"quantitative"}}},
{"transform":[{"filter":"datum.p=='c'&&datum.s=='exp'"}],"mark":{"type":"line","color":"#e0201c","strokeWidth":1.2,"interpolate":"monotone"},"encoding":{"x":{"field":"x","type":"quantitative"},"y":{"field":"y","type":"quantitative"}}},
{"data":{"values":[{}]},"mark":{"type":"text","text":"CO₂\u00a0\u00a0- CH₄ (3° Ciclo)","font":"Liberation Sans","fontWeight":"bold","fontSize":33,"align":"left","baseline":"middle"},"encoding":{"x":{"datum":11.9,"type":"quantitative"},"y":{"datum":0.986,"type":"quantitative"}}}
]},
{"width":431,"height":212,
"layer":[
{"data":{"values":[{}]},"mark":{"type":"rect","fill":"white"},"encoding":{"x":{"datum":10.3,"type":"quantitative","scale":{"domain":[10,50],"nice":false,"zero":false}},"x2":{"datum":42},"y":{"datum":0.42,"type":"quantitative","scale":{"domain":[-0.008,0.6],"nice":false,"zero":false}},"y2":{"datum":0.56}}},
{"transform":[{"filter":"datum.p=='d'&&datum.s=='g1'"}],"mark":{"type":"area","color":"#ffff00","fillOpacity":0.42,"interpolate":"monotone","line":{"color":"#000000","strokeWidth":0.8}},
"encoding":{"x":{"field":"x","type":"quantitative","scale":{"domain":[10,50],"nice":false,"zero":false},"axis":{"values":[10,20,30,40,50],"gridColor":"#6e6e6e","title":null}},
"y":{"field":"y","type":"quantitative","scale":{"domain":[-0.008,0.6],"nice":false,"zero":false},"axis":{"values":[0,0.15,0.3,0.45,0.6],"gridColor":{"condition":{"test":"datum.value==0.15||datum.value==0.45","value":"#b4b4b4"},"value":"#6e6e6e"},"labelExpr":"datum.value==0.15||datum.value==0.45?'':replace(format(datum.value,'.1f'),'.',',')","title":"(d)","titleX":-64,"titleY":-2}}}},
{"transform":[{"filter":"datum.p=='d'&&datum.s=='g2'"}],"mark":{"type":"area","color":"#ffff00","fillOpacity":0.42,"interpolate":"monotone","line":{"color":"#000000","strokeWidth":0.8}},"encoding":{"x":{"field":"x","type":"quantitative"},"y":{"field":"y","type":"quantitative"}}},
{"transform":[{"filter":"datum.p=='d'&&datum.s=='fit'"}],"mark":{"type":"line","color":"#000000","strokeWidth":1,"interpolate":"monotone"},"encoding":{"x":{"field":"x","type":"quantitative"},"y":{"field":"y","type":"quantitative"}}},
{"transform":[{"filter":"datum.p=='d'&&datum.s=='exp'"}],"mark":{"type":"line","color":"#e0201c","strokeWidth":1.2,"interpolate":"monotone"},"encoding":{"x":{"field":"x","type":"quantitative"},"y":{"field":"y","type":"quantitative"}}},
{"data":{"values":[{}]},"mark":{"type":"text","text":"CO₂ - CH₄(4° Ciclo)","font":"Liberation Sans","fontWeight":"bold","fontSize":33,"align":"left","baseline":"middle"},"encoding":{"x":{"datum":11.9,"type":"quantitative"},"y":{"datum":0.493,"type":"quantitative"}}}
]}
]},
{"bounds":"flush","spacing":75,
"vconcat":[
{"width":431,"height":212,
"title":{"text":"Ensaio 2 (400 °C)","fontSize":45,"anchor":"middle","frame":"group","offset":11},
"layer":[
{"data":{"values":[{}]},"mark":{"type":"rect","fill":"white"},"encoding":{"x":{"datum":10.3,"type":"quantitative","scale":{"domain":[10,50],"nice":false,"zero":false}},"x2":{"datum":39},"y":{"datum":0.082,"type":"quantitative","scale":{"domain":[-0.0016,0.12],"nice":false,"zero":false}},"y2":{"datum":0.118}}},
{"transform":[{"filter":"datum.p=='e'&&datum.s=='g1'"}],"mark":{"type":"area","color":"#22ee22","fillOpacity":0.45,"interpolate":"monotone","line":{"color":"#000000","strokeWidth":0.8}},
"encoding":{"x":{"field":"x","type":"quantitative","scale":{"domain":[10,50],"nice":false,"zero":false},"axis":{"values":[10,20,30,40,50],"gridColor":"#6e6e6e","title":null}},
"y":{"field":"y","type":"quantitative","scale":{"domain":[-0.0016,0.12],"nice":false,"zero":false},"axis":{"values":[0,0.03,0.06,0.09,0.12],"gridColor":{"condition":{"test":"datum.value==0.03||datum.value==0.09","value":"#b4b4b4"},"value":"#6e6e6e"},"labelExpr":"datum.value==0.03||datum.value==0.09?'':replace(format(datum.value,'.2f'),'.',',')","title":"(e)","titleX":-75,"titleY":-1}}}},
{"transform":[{"filter":"datum.p=='e'&&datum.s=='g2'"}],"mark":{"type":"area","color":"#22ee22","fillOpacity":0.45,"interpolate":"monotone","line":{"color":"#000000","strokeWidth":0.8}},"encoding":{"x":{"field":"x","type":"quantitative"},"y":{"field":"y","type":"quantitative"}}},
{"transform":[{"filter":"datum.p=='e'&&datum.s=='fit'"}],"mark":{"type":"line","color":"#000000","strokeWidth":1,"interpolate":"monotone"},"encoding":{"x":{"field":"x","type":"quantitative"},"y":{"field":"y","type":"quantitative"}}},
{"transform":[{"filter":"datum.p=='e'&&datum.s=='exp'"}],"mark":{"type":"line","color":"#1c1c8c","strokeWidth":1.3,"interpolate":"monotone"},"encoding":{"x":{"field":"x","type":"quantitative"},"y":{"field":"y","type":"quantitative"}}},
{"data":{"values":[{}]},"mark":{"type":"text","text":"O₂\u00a0\u00a0- Ar (1° Ciclo)","font":"Liberation Sans","fontWeight":"bold","fontSize":33,"align":"left","baseline":"middle"},"encoding":{"x":{"datum":11.7,"type":"quantitative"},"y":{"datum":0.1036,"type":"quantitative"}}}
]},
{"width":431,"height":212,
"layer":[
{"data":{"values":[{}]},"mark":{"type":"rect","fill":"white"},"encoding":{"x":{"datum":10.3,"type":"quantitative","scale":{"domain":[10,50],"nice":false,"zero":false}},"x2":{"datum":37.9},"y":{"datum":0.082,"type":"quantitative","scale":{"domain":[-0.0016,0.12],"nice":false,"zero":false}},"y2":{"datum":0.118}}},
{"transform":[{"filter":"datum.p=='f'&&datum.s=='g1'"}],"mark":{"type":"area","color":"#22ee22","fillOpacity":0.45,"interpolate":"monotone","line":{"color":"#000000","strokeWidth":0.8}},
"encoding":{"x":{"field":"x","type":"quantitative","scale":{"domain":[10,50],"nice":false,"zero":false},"axis":{"values":[10,20,30,40,50],"gridColor":"#6e6e6e","title":null}},
"y":{"field":"y","type":"quantitative","scale":{"domain":[-0.0016,0.12],"nice":false,"zero":false},"axis":{"values":[0,0.03,0.06,0.09,0.12],"gridColor":{"condition":{"test":"datum.value==0.03||datum.value==0.09","value":"#b4b4b4"},"value":"#6e6e6e"},"labelExpr":"datum.value==0.03||datum.value==0.09?'':replace(format(datum.value,'.2f'),'.',',')","title":"(f)","titleX":-75,"titleY":-24}}}},
{"transform":[{"filter":"datum.p=='f'&&datum.s=='g2'"}],"mark":{"type":"area","color":"#3232f0","fillOpacity":0.48,"interpolate":"monotone","line":{"color":"#000000","strokeWidth":0.8}},"encoding":{"x":{"field":"x","type":"quantitative"},"y":{"field":"y","type":"quantitative"}}},
{"transform":[{"filter":"datum.p=='f'&&datum.s=='fit'"}],"mark":{"type":"line","color":"#000000","strokeWidth":1,"interpolate":"monotone"},"encoding":{"x":{"field":"x","type":"quantitative"},"y":{"field":"y","type":"quantitative"}}},
{"transform":[{"filter":"datum.p=='f'&&datum.s=='exp'"}],"mark":{"type":"line","color":"#1c1c8c","strokeWidth":1.3,"interpolate":"monotone"},"encoding":{"x":{"field":"x","type":"quantitative"},"y":{"field":"y","type":"quantitative"}}},
{"data":{"values":[{}]},"mark":{"type":"text","text":"O₂\u00a0\u00a0- Ar (2° Ciclo)","font":"Liberation Sans","fontWeight":"bold","fontSize":33,"align":"left","baseline":"middle"},"encoding":{"x":{"datum":11.2,"type":"quantitative"},"y":{"datum":0.1025,"type":"quantitative"}}}
]},
{"width":431,"height":212,
"layer":[
{"data":{"values":[{}]},"mark":{"type":"rect","fill":"white"},"encoding":{"x":{"datum":10.3,"type":"quantitative","scale":{"domain":[10,50],"nice":false,"zero":false}},"x2":{"datum":41},"y":{"datum":2.05,"type":"quantitative","scale":{"domain":[-0.04,3],"nice":false,"zero":false}},"y2":{"datum":2.95}}},
{"transform":[{"filter":"datum.p=='g'&&datum.s=='g1'"}],"mark":{"type":"area","color":"#3232f0","fillOpacity":0.48,"interpolate":"monotone","line":{"color":"#000000","strokeWidth":0.8}},
"encoding":{"x":{"field":"x","type":"quantitative","scale":{"domain":[10,50],"nice":false,"zero":false},"axis":{"values":[10,20,30,40,50],"gridColor":"#6e6e6e","title":null}},
"y":{"field":"y","type":"quantitative","scale":{"domain":[-0.04,3],"nice":false,"zero":false},"axis":{"values":[0,0.75,1.5,2.25,3],"gridColor":{"condition":{"test":"datum.value==0.75||datum.value==2.25","value":"#b4b4b4"},"value":"#6e6e6e"},"labelExpr":"datum.value==0.75||datum.value==2.25?'':replace(format(datum.value,'.1f'),'.',',')","title":"(g)","titleX":-75,"titleY":-4}}}},
{"transform":[{"filter":"datum.p=='g'&&datum.s=='g2'"}],"mark":{"type":"area","color":"#3232f0","fillOpacity":0.48,"interpolate":"monotone","line":{"color":"#000000","strokeWidth":0.8}},"encoding":{"x":{"field":"x","type":"quantitative"},"y":{"field":"y","type":"quantitative"}}},
{"transform":[{"filter":"datum.p=='g'&&datum.s=='fit'"}],"mark":{"type":"line","color":"#000000","strokeWidth":1,"interpolate":"monotone"},"encoding":{"x":{"field":"x","type":"quantitative"},"y":{"field":"y","type":"quantitative"}}},
{"transform":[{"filter":"datum.p=='g'&&datum.s=='exp'"}],"mark":{"type":"line","color":"#1c1c8c","strokeWidth":1.3,"interpolate":"monotone"},"encoding":{"x":{"field":"x","type":"quantitative"},"y":{"field":"y","type":"quantitative"}}},
{"data":{"values":[{}]},"mark":{"type":"text","text":"O₂\u00a0\u00a0- CH₄ (3° Ciclo)","font":"Liberation Sans","fontWeight":"bold","fontSize":33,"align":"left","baseline":"middle"},"encoding":{"x":{"datum":11.4,"type":"quantitative"},"y":{"datum":2.535,"type":"quantitative"}}}
]},
{"width":431,"height":212,
"layer":[
{"data":{"values":[{}]},"mark":{"type":"rect","fill":"white"},"encoding":{"x":{"datum":10.3,"type":"quantitative","scale":{"domain":[10,50],"nice":false,"zero":false}},"x2":{"datum":39.3},"y":{"datum":1.37,"type":"quantitative","scale":{"domain":[-0.027,2],"nice":false,"zero":false}},"y2":{"datum":1.9}}},
{"transform":[{"filter":"datum.p=='h'&&datum.s=='g1'"}],"mark":{"type":"area","color":"#3232f0","fillOpacity":0.48,"interpolate":"monotone","line":{"color":"#000000","strokeWidth":0.8}},
"encoding":{"x":{"field":"x","type":"quantitative","scale":{"domain":[10,50],"nice":false,"zero":false},"axis":{"values":[10,20,30,40,50],"gridColor":"#6e6e6e","title":null}},
"y":{"field":"y","type":"quantitative","scale":{"domain":[-0.027,2],"nice":false,"zero":false},"axis":{"values":[0,0.5,1,1.5,2],"gridColor":{"condition":{"test":"datum.value==0.5||datum.value==1.5","value":"#b4b4b4"},"value":"#6e6e6e"},"labelExpr":"datum.value==0.5||datum.value==1.5?'':format(datum.value,'d')","title":"(h)","titleX":-75,"titleY":-2}}}},
{"transform":[{"filter":"datum.p=='h'&&datum.s=='g2'"}],"mark":{"type":"area","color":"#3232f0","fillOpacity":0.48,"interpolate":"monotone","line":{"color":"#000000","strokeWidth":0.8}},"encoding":{"x":{"field":"x","type":"quantitative"},"y":{"field":"y","type":"quantitative"}}},
{"transform":[{"filter":"datum.p=='h'&&datum.s=='fit'"}],"mark":{"type":"line","color":"#000000","strokeWidth":1,"interpolate":"monotone"},"encoding":{"x":{"field":"x","type":"quantitative"},"y":{"field":"y","type":"quantitative"}}},
{"transform":[{"filter":"datum.p=='h'&&datum.s=='exp'"}],"mark":{"type":"line","color":"#1c1c8c","strokeWidth":1.3,"interpolate":"monotone"},"encoding":{"x":{"field":"x","type":"quantitative"},"y":{"field":"y","type":"quantitative"}}},
{"data":{"values":[{}]},"mark":{"type":"text","text":"O₂ - CH₄ (4° Ciclo)","font":"Liberation Sans","fontWeight":"bold","fontSize":33,"align":"left","baseline":"middle"},"encoding":{"x":{"datum":11.7,"type":"quantitative"},"y":{"datum":1.626,"type":"quantitative"}}}
]}
]}
],
"spacing":647,
"bounds":"flush",
"config":{
"font":"Liberation Sans",
"view":{"stroke":"#1a1a1a","strokeWidth":1.5},
"axis":{"labelFont":"Liberation Sans","labelFontWeight":"bold","labelFontSize":31,"labelColor":"#000000","ticks":false,"domain":false,"grid":true,"gridDash":[7,5],"gridWidth":1.3,"labelOverlap":false,"titleFont":"Liberation Sans","titleFontWeight":"bold","titleColor":"#000000"},
"axisX":{"labelFlush":false,"labelPadding":6},
"axisY":{"labelPadding":5,"titleAngle":0,"titleAlign":"right","titleBaseline":"top","titleFontSize":37},
"title":{"font":"Liberation Sans","fontWeight":"bold","color":"#000000"}
}
}
